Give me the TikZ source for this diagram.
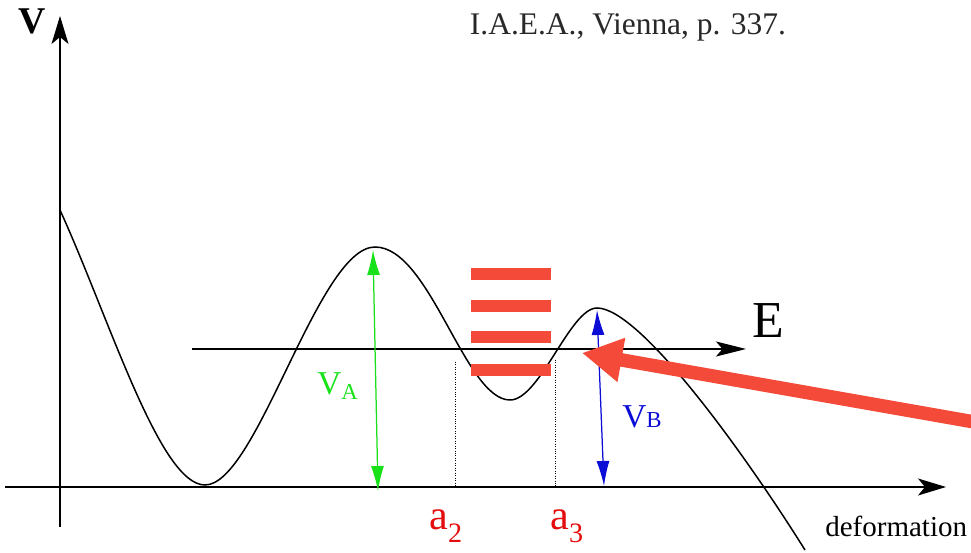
\documentclass[tikz,border=0pt]{standalone}
\usepackage{fontspec}
\setmainfont{Liberation Serif}
\usetikzlibrary{arrows.meta}
\definecolor{barred}{RGB}{244,74,58}
\definecolor{labred}{RGB}{228,12,12}
\definecolor{vgreen}{RGB}{25,225,25}
\definecolor{vblue}{RGB}{12,12,215}
\definecolor{reftext}{RGB}{40,40,40}
\tikzset{
  axisline/.style={line width=0.25mm, -{Stealth[length=5.6mm,width=3.4mm,inset=1.4mm]}},
  eline/.style={line width=0.25mm, -{Stealth[length=6mm,width=3mm,inset=1.3mm]}},
  curveline/.style={line width=0.3mm, black},
  dropline/.style={line width=0.2mm, dash pattern=on 0.5pt off 0.9pt},
  bar/.style={fill=barred, draw=none, minimum width=16mm, minimum height=2.4mm, inner sep=0},
  varrowA/.style={vgreen, line width=0.25mm, {Latex[length=5mm,width=2.6mm]}-{Latex[length=5mm,width=2.6mm]}},
  varrowB/.style={vblue, line width=0.25mm, {Latex[length=5mm,width=2.6mm]}-{Latex[length=5mm,width=2.6mm]}},
  bigarrow/.style={barred, line width=2.7mm, -{Triangle[length=8mm,width=8.4mm]}},
  lab/.style={inner sep=0},
}
\begin{document}
\begin{tikzpicture}[x=0.02cm,y=-0.02cm]
\useasboundingbox (0,0) rectangle (971,553);

% axes
\coordinate (yTop) at (60,16);
\coordinate (yBot) at (60,527);
\coordinate (xL) at (5,487);
\coordinate (xR) at (946,487);
\draw[axisline] (yBot) -- (yTop);
\draw[axisline] (xL) -- (xR);
\node[lab, font=\bfseries\fontsize{21.5}{24}\selectfont] (vlab) at (32,21) {V};

% reference text
\node[lab, anchor=base, text=reftext, font=\fontsize{17.9}{20}\selectfont] (ref) at (628,35) {I.A.E.A., Vienna, p. 337.};

% potential curve
\draw[curveline] (60,210) .. controls (110,320) and (160,485) .. (205,485)
  .. controls (257,485) and (318,247) .. (375,247)
  .. controls (430,247) and (465,400) .. (510,400)
  .. controls (540,400) and (570,308) .. (597,308)
  .. controls (640,308) and (745,454) .. (805,550);

% energy line
\coordinate (eL) at (192,349);
\coordinate (eR) at (746,349);
\draw[eline] (eL) -- (eR);
\node[lab, font=\fontsize{29.5}{32}\selectfont] (elab) at (768,321) {E};

% dotted drops
\coordinate (a2top) at (455,362);
\coordinate (a2bot) at (455,487);
\coordinate (a3top) at (555,360);
\coordinate (a3bot) at (555,487);
\draw[dropline] (a2top) -- (a2bot);
\draw[dropline] (a3top) -- (a3bot);

% red levels
\node[bar] (b1) at (511,274) {};
\node[bar] (b2) at (511,306) {};
\node[bar] (b3) at (511,337.5) {};
\node[bar] (b4) at (511,370) {};

% barrier heights
\coordinate (vaT) at (373,250);
\coordinate (vaB) at (378,491);
\draw[varrowA] (vaT) -- (vaB);
\node[lab, anchor=base west, text=vgreen] (va) at (317,395) {\fontsize{19}{20}\selectfont V\raisebox{-0.12em}{\fontsize{13}{14}\selectfont A}};

\coordinate (vbT) at (597,310);
\coordinate (vbB) at (604,486);
\draw[varrowB] (vbT) -- (vbB);
\node[lab, anchor=base west, text=vblue] (vb) at (622,428) {\fontsize{19}{20}\selectfont V\fontsize{13}{14}\selectfont B};

% big red arrow
\coordinate (rs) at (980,423);
\coordinate (rt) at (582,353);
\draw[bigarrow] (rs) -- (rt);

% labels a2, a3, deformation
\node[lab, anchor=base west, text=labred] (a2) at (429,530) {\fontsize{24}{26}\selectfont a\raisebox{-7pt}{\fontsize{16}{18}\selectfont 2}};
\node[lab, anchor=base west, text=labred] (a3) at (550,530) {\fontsize{24}{26}\selectfont a\raisebox{-7pt}{\fontsize{16}{18}\selectfont 3}};
\node[lab, anchor=base west, font=\fontsize{16.5}{18}\selectfont] (def) at (825,537) {deformation};
\end{tikzpicture}
\end{document}
